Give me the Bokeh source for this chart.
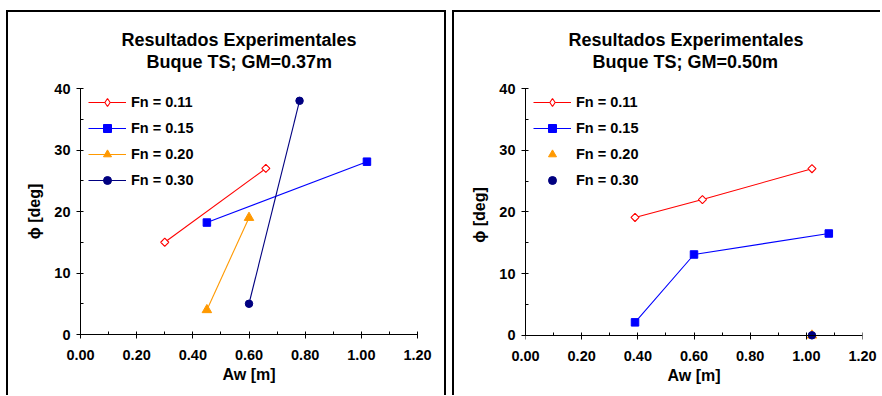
import math

from bokeh.plotting import figure
from bokeh.layouts import row
from bokeh.models import (Range1d, FixedTicker, PrintfTickFormatter, Legend, LegendItem,
                          Title, LinearAxis)
from bokeh.embed import file_html
from bokeh.resources import INLINE

FONT = "Liberation Sans"

# ---- data -------------------------------------------------------------
series_labels = ["Fn = 0.11", "Fn = 0.15", "Fn = 0.20", "Fn = 0.30"]
series_colors = ["#FF0000", "#0000FF", "#FF9900", "#000080"]

# Buque TS, GM = 0.37 m  (Aw [m] vs roll angle [deg])
gm037_fn011_aw = [0.30, 0.66]
gm037_fn011_phi = [15.0, 27.0]
gm037_fn015_aw = [0.45, 1.02]
gm037_fn015_phi = [18.2, 28.1]
gm037_fn020_aw = [0.45, 0.60]
gm037_fn020_phi = [4.0, 19.0]
gm037_fn030_aw = [0.60, 0.78]
gm037_fn030_phi = [5.0, 38.0]

# Buque TS, GM = 0.50 m
gm050_fn011_aw = [0.39, 0.63, 1.02]
gm050_fn011_phi = [19.1, 22.0, 27.0]
gm050_fn015_aw = [0.39, 0.60, 1.08]
gm050_fn015_phi = [2.1, 13.1, 16.5]
gm050_fn020_aw = [1.02]
gm050_fn020_phi = [0.0]
gm050_fn030_aw = [1.02]
gm050_fn030_phi = [0.0]

x_ticks = [0.0, 0.2, 0.4, 0.6, 0.8, 1.0, 1.2]
x_minor = [0.1, 0.3, 0.5, 0.7, 0.9, 1.1]
y_ticks = [0, 10, 20, 30, 40]
y_minor = [5, 15, 25, 35]

# marker style per Froude number
marker_styles = [
    dict(marker="square", angle=math.pi / 4, size=5.7, fill_color="white", line_width=1.1),
    dict(marker="square", size=7.5),
    dict(marker="triangle", size=9.5),
    dict(marker="circle", size=7.5),
]


def style_ticks(ax):
    ax.axis_line_color = "black"
    ax.major_tick_line_color = "black"
    ax.minor_tick_line_color = "black"
    ax.major_tick_in = 3
    ax.major_tick_out = 4
    ax.minor_tick_in = 3
    ax.minor_tick_out = 0


def style_text(ax):
    ax.major_label_text_font = FONT
    ax.major_label_text_font_size = "14.5px"
    ax.major_label_text_font_style = "bold"
    ax.major_label_text_color = "black"
    ax.axis_label_text_font = FONT
    ax.axis_label_text_font_size = "16px"
    ax.axis_label_text_font_style = "bold"
    ax.axis_label_text_color = "black"


def tick_only_axis(positions, tick_in, tick_out, show_line):
    """Unlabelled axis pinned at y = 0 that only draws its line and tick marks."""
    return LinearAxis(
        ticker=FixedTicker(ticks=[], minor_ticks=positions),
        fixed_location=0,
        major_tick_in=0,
        major_tick_out=0,
        minor_tick_in=tick_in,
        minor_tick_out=tick_out,
        minor_tick_line_color="black",
        axis_line_color="black",
        axis_line_alpha=1 if show_line else 0,
        major_label_standoff=0,
        axis_label_standoff=0,
    )


def make_panel(title_lines, title_offsets, series, frame, borders, y_start, css):
    p = figure(
        title=None,
        output_backend="svg",
        toolbar_location=None,
        x_range=Range1d(0, 1.2),
        y_range=Range1d(y_start, 40),
        frame_width=frame[0],
        frame_height=frame[1],
        min_border_left=borders[0],
        min_border_right=borders[1],
        min_border_top=borders[2],
        min_border_bottom=borders[3],
        background_fill_color="white",
        border_fill_color="white",
        outline_line_color=None,
        margin=(10, 0, 0, 6),
        styles=css,
    )
    p.grid.visible = False
    xa = p.below[0]
    ya = p.left[0]

    # two-line heading, each line centred on its own; stacked upward from the frame
    # after a blank band
    p.add_layout(Title(text=" ", text_font=FONT, text_font_size="12px", standoff=1), "above")
    for text, off in reversed(list(zip(title_lines, title_offsets))):
        p.add_layout(Title(text=text, align="left", offset=off, standoff=0,
                           text_font=FONT, text_font_size="18px",
                           text_font_style="bold", text_color="black"), "above")

    xa.ticker = FixedTicker(ticks=x_ticks, minor_ticks=x_minor)
    xa.formatter = PrintfTickFormatter(format="%.2f")
    xa.axis_label = "Aw [m]"
    style_text(xa)
    style_ticks(xa)
    xa.major_label_standoff = 11
    xa.axis_label_standoff = 3

    if y_start < 0:
        # frame reaches slightly below zero so markers sitting on the axis stay whole;
        # the visible axis line and tick marks are drawn at y = 0
        xa.axis_line_alpha = 0
        xa.major_tick_out = 0
        xa.major_tick_in = 0
        xa.minor_tick_in = 0
        below = p.y_range.start
        xa.major_label_standoff = 11 + 4 - round(-below * frame[1] / (40 - below))
        p.add_layout(tick_only_axis(x_ticks, 3, 4, True), "below")
        p.add_layout(tick_only_axis(x_minor, 3, 0, False), "below")

    ya.ticker = FixedTicker(ticks=y_ticks, minor_ticks=y_minor)
    ya.axis_label = "\u03d5 [deg]"
    ya.bounds = (0, 40)
    style_text(ya)
    style_ticks(ya)
    ya.major_label_standoff = 6
    ya.axis_label_standoff = 8

    items = []
    for label, color, style, (xs, ys) in zip(series_labels, series_colors, marker_styles, series):
        rs = []
        if len(xs) > 1:
            rs.append(p.line(xs, ys, line_color=color, line_width=1.1))
        if style.get("angle"):
            # open diamond: an upright diamond underneath serves as the legend key
            rs.append(p.scatter(xs, ys, marker="diamond", size=7, line_color=color,
                                fill_color="white", line_width=1.1))
            p.scatter(xs, ys, line_color=color, **style)
        else:
            kw = dict(style)
            kw.setdefault("fill_color", color)
            rs.append(p.scatter(xs, ys, line_color=color, line_width=1, **kw))
        items.append(LegendItem(label=label, renderers=rs))

    legend = Legend(
        items=items,
        location=(8, frame[1] - 2 - 98),
        margin=0,
        padding=0,
        spacing=6,
        glyph_width=38,
        glyph_height=20,
        label_height=20,
        label_standoff=5,
        label_text_font=FONT,
        label_text_font_size="14.5px",
        label_text_font_style="bold",
        label_text_color="black",
        background_fill_alpha=0,
        border_line_alpha=0,
    )
    p.add_layout(legend)
    return p


left_series = [
    (gm037_fn011_aw, gm037_fn011_phi),
    (gm037_fn015_aw, gm037_fn015_phi),
    (gm037_fn020_aw, gm037_fn020_phi),
    (gm037_fn030_aw, gm037_fn030_phi),
]
right_series = [
    (gm050_fn011_aw, gm050_fn011_phi),
    (gm050_fn015_aw, gm050_fn015_phi),
    (gm050_fn020_aw, gm050_fn020_phi),
    (gm050_fn030_aw, gm050_fn030_phi),
]

box = "2px solid black"
p1 = make_panel(
    ["Resultados Experimentales", "Buque TS; GM=0.37m"],
    [41, 66],
    left_series,
    frame=(333, 244),
    borders=(72, 31, 76, 63),
    y_start=0,
    css={"border-top": box, "border-left": box, "border-right": box},
)
p2 = make_panel(
    ["Resultados Experimentales", "Buque TS; GM=0.50m"],
    [43, 67],
    right_series,
    frame=(335, 251),
    borders=(71, 20, 75, 57),
    y_start=-1.0,
    css={"border-top": box, "border-left": box},
)

layout = row(p1, p2, spacing=0)
open("out.html", "w").write(file_html(layout, INLINE))
